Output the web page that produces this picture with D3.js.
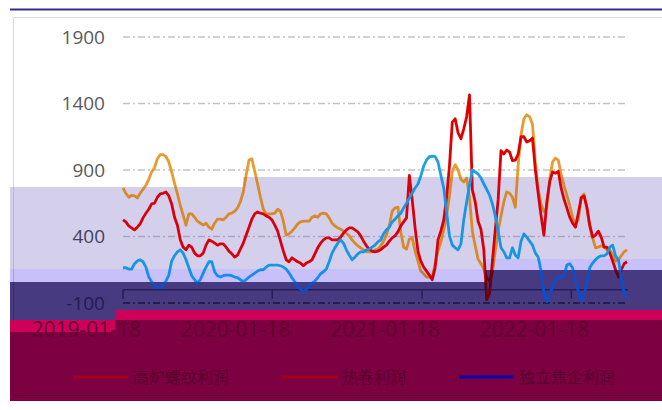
<!DOCTYPE html>
<html><head><meta charset="utf-8">
<script src="https://cdn.jsdelivr.net/npm/d3@7"></script>
<style>body{margin:0;background:#fff}svg{display:block}</style>
</head><body><svg id="c" width="662" height="410"></svg>
<script>
// ---------- data ----------
const startDate = "2019-01-18";           // first weekly observation
const seriesNames = ["高炉螺纹利润", "热卷利润", "独立焦企利润"];
const yTicks = [-100, 400, 900, 1400, 1900];
const xTickLabels = ["2019-01-18", "2020-01-18", "2021-01-18", "2022-01-18"];

const rebarProfit = [765,725,695,710,705,690,725,755,785,830,
885,915,985,1015,1015,1000,960,885,800,720,
635,560,485,570,570,545,515,500,485,500,
470,455,500,530,530,525,545,570,575,590,
615,660,735,860,975,985,890,795,695,605,
570,570,570,575,605,590,515,410,420,440,
465,495,510,515,515,515,545,555,545,570,
575,570,540,500,480,465,455,440,425,405,
375,350,330,315,300,285,285,285,300,305,
330,365,410,485,590,615,620,435,320,305,
380,390,290,215,140,120,95,95,95,195,
290,360,450,555,705,890,940,900,830,810,
840,690,440,330,230,195,155,90,65,135,
290,440,555,660,735,725,695,620,940,1165,
1285,1315,1300,1245,955,755,645,585,615,825,
960,990,975,870,785,710,635,545,495,525,
695,720,605,470,390,315,320,330,320,300,
300,260,215,225,255,285,300];

const hrcProfit = [525,510,480,465,450,470,495,540,575,605,
645,650,695,720,725,735,705,645,545,485,
375,320,300,335,320,275,255,255,275,335,
375,365,350,335,345,345,320,290,270,245,
260,305,350,410,470,530,570,585,575,570,
555,545,525,485,440,365,290,225,210,240,
225,210,200,180,200,210,225,270,315,350,
375,390,390,375,375,375,395,425,450,465,
465,450,435,405,365,330,305,290,285,290,
300,320,335,365,390,405,435,480,510,540,
860,675,465,290,215,170,140,110,75,165,
375,440,525,695,930,1260,1285,1180,1135,1210,
1300,1465,750,660,515,455,300,-75,-30,215,
450,675,1045,1020,1050,1035,970,975,1020,1150,
1150,1110,1120,1140,900,720,555,410,660,810,
885,875,890,765,680,615,545,500,470,575,
690,705,620,485,395,410,440,395,320,320,
275,215,150,95,150,195,210];

const cokeProfit = [165,165,155,155,195,215,225,210,170,95,
60,30,15,15,35,65,110,215,255,285,
300,275,225,165,105,75,50,75,125,170,
210,210,135,105,95,105,110,110,105,95,
90,75,60,75,95,110,125,140,150,150,
170,185,185,185,185,180,170,155,125,90,
60,20,5,-15,0,30,50,65,90,120,
135,155,210,275,315,350,375,350,300,260,
225,245,270,285,285,300,305,320,335,360,
375,420,450,470,510,530,555,575,615,650,
690,725,765,795,855,930,975,1000,1005,1000,
960,860,765,585,405,335,315,300,345,525,
660,785,900,885,870,840,795,755,710,645,
555,440,315,285,240,240,315,260,240,365,
420,395,365,335,275,245,140,-25,-90,-30,
20,75,95,90,105,185,195,165,75,-15,
-85,-40,60,165,200,225,245,255,255,270,
320,335,255,225,90,-30,-60];

// ---------- setup ----------
const svg = d3.select("#c");
const parse = d3.timeParse("%Y-%m-%d");
const t0 = parse(startDate);
const dates = rebarProfit.map((_, i) => d3.timeDay.offset(t0, 7 * i));
const x = d3.scaleTime().domain([t0, dates[dates.length - 1]]).range([123, 627]);
const y = d3.scaleLinear().domain([-100, 1900]).range([303, 37]);
const tickDates = xTickLabels.map(parse);
const seriesData = [rebarProfit, hrcProfit, cokeProfit];
const seriesKeys = ["c0", "c1", "c2"];
const line = d3.line().x((d, i) => x(dates[i])).y(d => y(d));

const FONT = "'Open Sans','Noto Sans CJK SC',sans-serif";
const CJK = "'Noto Sans CJK SC','Noto Sans',sans-serif";
const legendPos = [73, 282, 459];

// graphics (no text) — drawn once per colour band, clipped
function drawMarks(g, p) {
  g.append("rect").attr("x", 13.5).attr("y", 17.5).attr("width", 700).attr("height", 378)
    .attr("fill", "none").attr("stroke", p.border).attr("stroke-width", 1);
  g.selectAll(null).data(yTicks).join("line")
    .attr("x1", 123).attr("x2", 628)
    .attr("y1", d => y(d)).attr("y2", d => y(d))
    .attr("stroke", p.grid).attr("stroke-width", 1.4)
    .attr("stroke-dasharray", "7,3,2,3");
  g.append("line").attr("x1", 123).attr("x2", 628).attr("y1", y(0)).attr("y2", y(0))
    .attr("stroke", p.axis).attr("stroke-width", 1.5);
  g.selectAll(null).data(tickDates).join("line")
    .attr("x1", d => x(d)).attr("x2", d => x(d)).attr("y1", y(0)).attr("y2", y(0) + 9)
    .attr("stroke", p.axis).attr("stroke-width", 1.5);
  seriesData.forEach((vals, k) => {
    g.append("path").datum(vals).attr("d", line)
      .attr("fill", "none").attr("stroke", p[seriesKeys[k]])
      .attr("stroke-width", 2.8).attr("stroke-linejoin", "round");
  });
  seriesNames.forEach((name, k) => {
    g.append("line").attr("x1", legendPos[k]).attr("x2", legendPos[k] + 55)
      .attr("y1", 377).attr("y2", 377)
      .attr("stroke", p["l" + k]).attr("stroke-width", 3);
  });
}

const palettes = {
  white:  {bg: null, border: "#d9d9d9", grid: "#c4c4c4", axis: "#bfbfbf",
           c0: "#ea9a30", c1: "#e00000", c2: "#1ea0e6", l0: "#ea9a30", l1: "#e00000", l2: "#1ea0e6"},
  lav:    {bg: "#d4d0ec", border: "#b8b4d0", grid: "#a9a4c2", axis: "#a9a4c2",
           c0: "#d78a2c", c1: "#d8000c", c2: "#1896e2", l0: "#d78a2c", l1: "#d8000c", l2: "#1896e2"},
  bright: {bg: "#c8c0f8", border: "#a89ee0", grid: "#9d94d0", axis: "#3a3070",
           c0: "#cc7f2c", c1: "#cc000c", c2: "#168dec", l0: "#cc7f2c", l1: "#cc000c", l2: "#168dec"},
  dark:   {bg: "#483a80", border: "#3a2e6a", grid: "#1c1240", axis: "#261c58",
           c0: "#5c0a14", c1: "#680010", c2: "#0a4ed0", l0: "#5c0a14", l1: "#680010", l2: "#0a4ed0"},
  pink:   {bg: "#cf005a", border: "#a80048", grid: "#a0004a", axis: "#8a0040",
           c0: "#a4001c", c1: "#a4001c", c2: "#0a0aa8", l0: "#a4001c", l1: "#a4001c", l2: "#0a0aa8"},
  maroon: {bg: "#7c0042", border: "#5e0030", grid: "#600034", axis: "#600034",
           c0: "#a4001c", c1: "#a4001c", c2: "#0a0aa8", l0: "#a6001c", l1: "#a6001c", l2: "#0808aa"}
};

const bands = [
  {pal: "lav",    rects: [[10,187,243,269],[243,177,485,269],[485,177,662,259]]},
  {pal: "bright", rects: [[10,269,485,282],[485,259,662,270]]},
  {pal: "dark",   rects: [[10,282,115,320],[115,282,485,310],[485,270,662,310]]},
  {pal: "pink",   rects: [[10,320,115,332],[115,310,662,320]]},
  {pal: "maroon", rects: [[10,332,115,401],[115,320,662,401]]}
];

// top rule
svg.append("line").attr("x1", 10).attr("x2", 662).attr("y1", 9.5).attr("y2", 9.5)
  .attr("stroke", "#2e318c").attr("stroke-width", 2);

drawMarks(svg.append("g"), palettes.white);

const defs = svg.append("defs");
bands.forEach((b, i) => {
  const cp = defs.append("clipPath").attr("id", "band" + i);
  b.rects.forEach(r => cp.append("rect").attr("x", r[0]).attr("y", r[1])
    .attr("width", r[2] - r[0]).attr("height", r[3] - r[1]));
  const g = svg.append("g").attr("clip-path", `url(#band${i})`);
  g.append("rect").attr("x", 0).attr("y", 0).attr("width", 662).attr("height", 410)
    .attr("fill", palettes[b.pal].bg);
  drawMarks(g, palettes[b.pal]);
});

// ---------- texts, drawn once ----------
const yLabelColor = v => v >= 900 ? "#595959" : (v >= 400 ? "#45415a" : "#241a50");
svg.append("g").selectAll("text").data(yTicks).join("text")
  .attr("x", 105).attr("y", d => y(d)).attr("dy", "0.35em")
  .attr("text-anchor", "end").attr("font-family", FONT).attr("font-size", 19)
  .attr("fill", d => yLabelColor(d)).text(d => d);

svg.append("g").selectAll("text").data(tickDates).join("text")
  .attr("x", d => x(d) + 18).attr("y", 337)
  .attr("text-anchor", "end").attr("font-family", FONT).attr("font-size", 21)
  .attr("fill", "#62002f").text((d, i) => xTickLabels[i]);

svg.append("g").selectAll("text").data(seriesNames).join("text")
  .attr("x", (d, k) => legendPos[k] + 60).attr("y", 377).attr("dy", "0.35em")
  .attr("font-family", CJK).attr("font-size", 16).attr("fill", "#58002e").text(d => d);
</script></body></html>
